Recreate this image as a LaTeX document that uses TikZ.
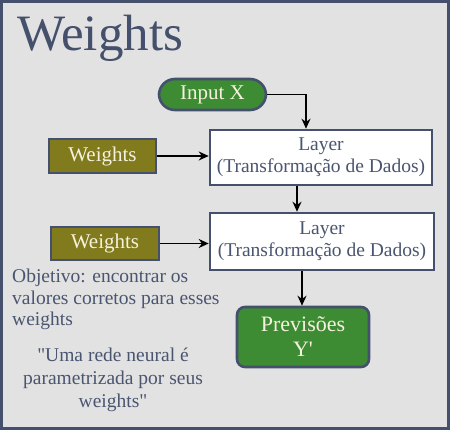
\documentclass[tikz,border=0pt]{standalone}
\usepackage{fontspec}
\setmainfont{Liberation Serif}
\newfontfamily\qf{Liberation Serif}
\usetikzlibrary{arrows.meta,calc}
\definecolor{frame}{HTML}{44506C}
\definecolor{bg}{HTML}{E2E2E2}
\definecolor{grn}{HTML}{3D8C33}
\definecolor{olv}{HTML}{827B1D}
\definecolor{cream}{HTML}{F5F1DE}
\definecolor{txt}{HTML}{4A5570}
\tikzset{
  box/.style={draw=frame, line width=2.6pt, inner sep=0pt, align=center},
  layerbox/.style={box, fill=white, minimum width=222pt, minimum height=55pt, text=txt, font=\fontsize{19.5}{22}\selectfont},
  wbox/.style={box, fill=olv, minimum width=107pt, minimum height=34pt, text=cream, font=\fontsize{21}{24}\selectfont},
  gbox/.style={box, fill=grn, text=cream},
  arr/.style={draw=black, line width=1.8pt, -{Stealth[length=10pt,width=9pt]}},
  note/.style={text=txt, inner sep=0pt, font=\fontsize{19.5}{21.5}\selectfont}
}
\begin{document}
\begin{tikzpicture}[x=1pt,y=-1pt]
\fill[frame] (0,0) rectangle (450,430);
\fill[bg] (3,3) rectangle (447,427);
\useasboundingbox (0,0) rectangle (450,430);
\node[anchor=base west, inner sep=0pt, text=frame, font=\fontsize{51}{51}\selectfont] (title) at (17,51) {Weights};
\node[gbox, rounded corners=16pt, minimum width=107pt, minimum height=31pt, font=\fontsize{21}{24}\selectfont] (in) at (212.5,94.5) {Input X};
\node[layerbox] (l1) at (321,157.5) {Layer\\(Transformação de Dados)};
\node[layerbox, minimum width=224pt, minimum height=57pt] (l2) at (322,241.5) {Layer\\(Transformação de Dados)};
\node[wbox] (w1) at (102.5,156) {Weights};
\node[wbox, minimum width=108pt, minimum height=33pt] (w2) at (105,243.5) {Weights};
\node[gbox, rounded corners=8pt, minimum width=132pt, minimum height=60pt, font=\fontsize{22}{25}\selectfont] (pr) at (303,337) {Previsões\\{\qf Y'}};
\node[note, anchor=north west, align=left] (obj) at (12,269) {Objetivo: encontrar os\\valores corretos para esses\\weights};
\node[note, anchor=north, align=center, font=\fontsize{19.5}{23}\selectfont] (quote) at (113,348) {{\qf"}Uma rede neural é\\parametrizada por seus\\weights{\qf"}};
\coordinate (c1) at (306,0);
\draw[arr] (in.east) -| (c1 |- l1.north);
\draw[arr] (w1.east) -- (w1.east -| l1.west);
\draw[arr] (w2.east) -- (w2.east -| l2.west);
\draw[arr] ([xshift=-24pt]l1.south) -- ([xshift=-24pt]l1.south |- l2.north);
\draw[arr] ([xshift=-20pt]l2.south) -- ([xshift=-20pt]l2.south |- pr.north);
\end{tikzpicture}
\end{document}
